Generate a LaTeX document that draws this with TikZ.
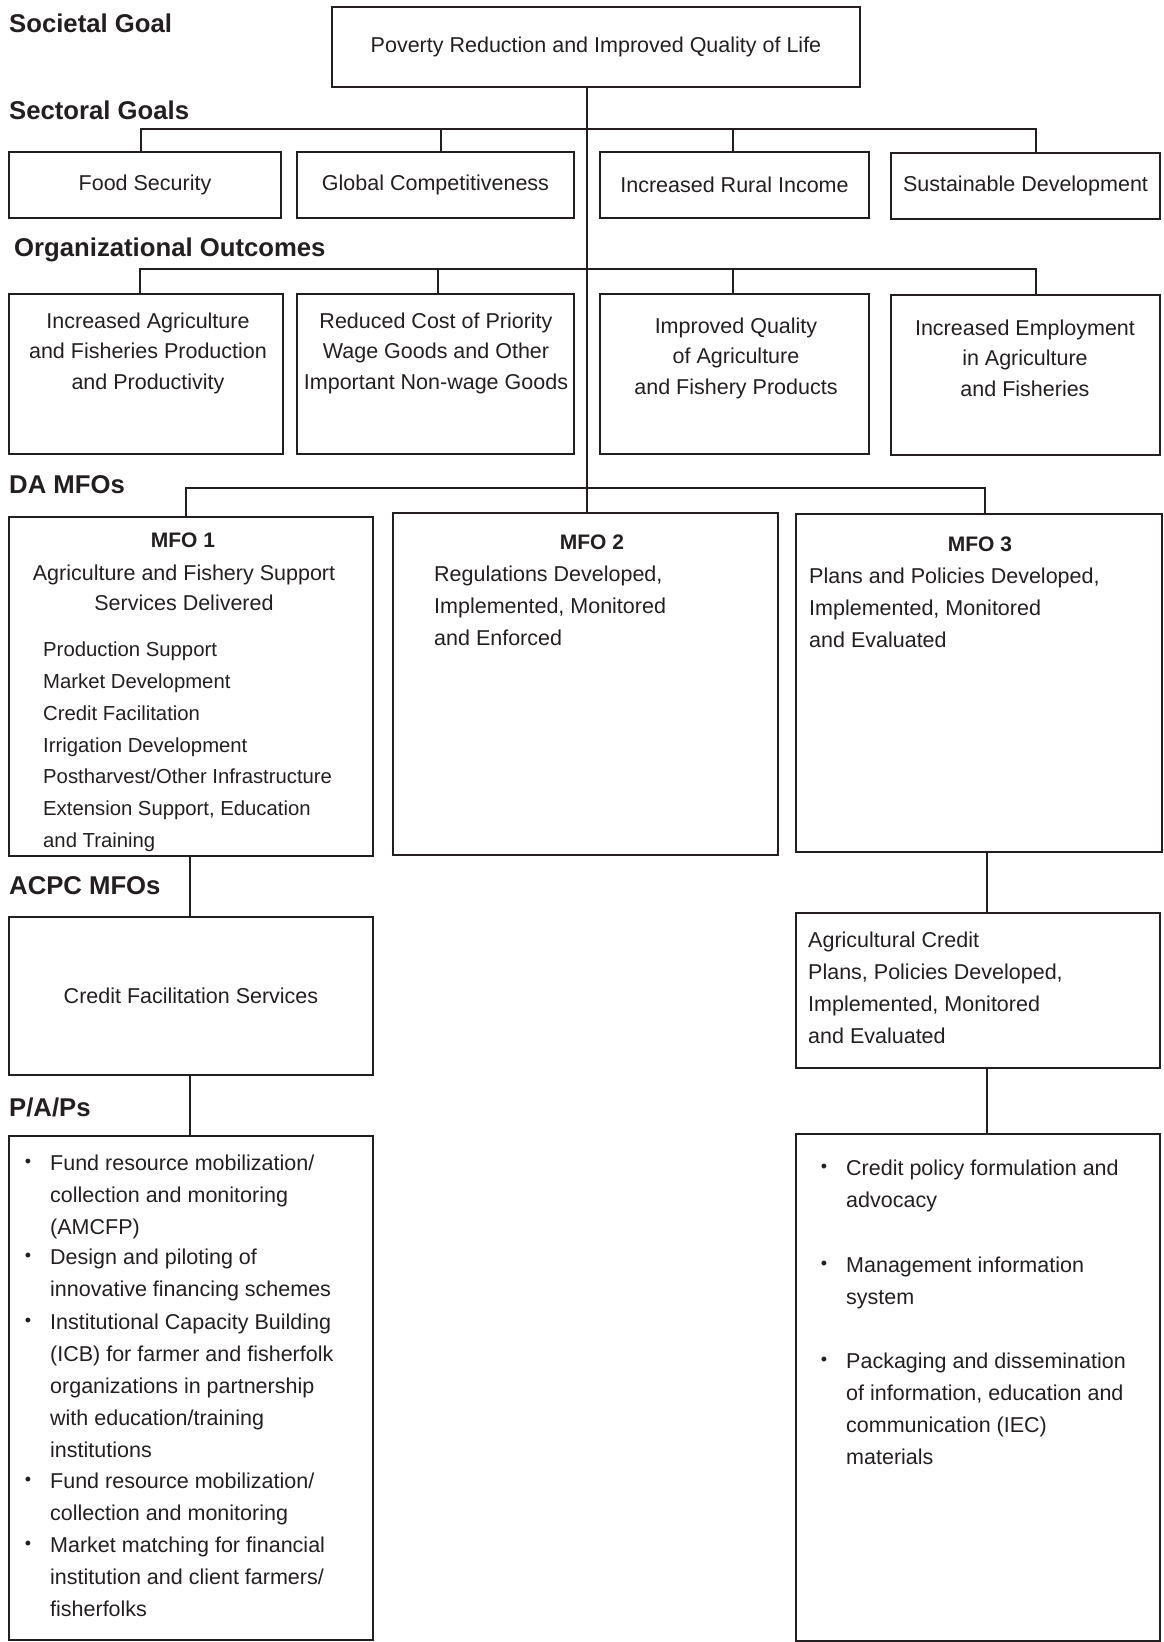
\documentclass[tikz,border=0pt]{standalone}
\usepackage{fontspec}
\setmainfont{Liberation Sans}
\definecolor{ink}{RGB}{35,31,32}
\newcommand\bodyf{\fontsize{21.5pt}{32pt}\selectfont}
\newcommand\outf{\fontsize{21.5pt}{30.5pt}\selectfont}
\newcommand\listf{\fontsize{20.3pt}{31.7pt}\selectfont}
\newcommand\headf{\fontsize{25.7pt}{30pt}\selectfont\bfseries}
\newcommand\mfof{\fontsize{21pt}{30pt}\selectfont\bfseries}
\begin{document}
\begin{tikzpicture}[x=1pt,y=-1pt,
  box/.style={draw=ink, line width=2.4pt, inner sep=0pt, text=ink, font=\bodyf, align=center},
  conn/.style={draw=ink, line width=2pt},
  head/.style={anchor=base west, inner sep=0pt, text=ink, font=\headf},
  txt/.style={inner sep=0pt, text=ink, font=\bodyf},
  bul/.style={inner sep=0pt, text=ink, font=\fontsize{18pt}{18pt}\selectfont}]
\useasboundingbox (0,0) rectangle (1164,1642);

% headings
\node[head] (hsoc) at (9,32) {Societal Goal};
\node[head] (hsec) at (9,119) {Sectoral Goals};
\node[head] (horg) at (14,256) {Organizational Outcomes};
\node[head] (hda) at (9,493) {DA MFOs};
\node[head] (hacpc) at (9,894) {ACPC MFOs};
\node[head] (hpap) at (9,1116) {P/A/Ps};

% societal goal
\node[box, minimum width=528pt, minimum height=80pt] (top) at (596,47) {Poverty Reduction and Improved Quality of Life};

% sectoral goals
\node[box, minimum width=272pt, minimum height=66pt] (fs) at (145,185) {Food Security};
\node[box, minimum width=277pt, minimum height=66pt] (gc) at (435.5,185) {Global Competitiveness};
\node[box, minimum width=269pt, minimum height=66pt] (rr) at (734.5,185) {Increased Rural Income};
\node[box, minimum width=269pt, minimum height=66pt] (sd) at (1025.5,186) {Sustainable Development};

% organizational outcomes
\node[box, minimum width=274pt, minimum height=160pt] (o1) at (146,374) {};
\node[box, minimum width=277pt, minimum height=160pt] (o2) at (435.5,374) {};
\node[box, minimum width=269pt, minimum height=160pt] (o3) at (734.5,374) {};
\node[box, minimum width=269pt, minimum height=160pt] (o4) at (1025.5,375) {};
\node[txt, font=\outf, align=center] (o1t) at (148,353) {Increased Agriculture\\and Fisheries Production\\and Productivity};
\node[txt, font=\outf, align=center] (o2t) at (436,353) {Reduced Cost of Priority\\Wage Goods and Other\\Important Non-wage Goods};
\node[txt, font=\outf, align=center] (o3t) at (736,358) {Improved Quality\\of Agriculture\\and Fishery Products};
\node[txt, font=\outf, align=center] (o4t) at (1025,358) {Increased Employment\\in Agriculture\\and Fisheries};

% DA MFOs
\node[box, minimum width=364pt, minimum height=339pt] (m1) at (191,686.5) {};
\node[box, minimum width=385pt, minimum height=342pt] (m2) at (585.5,684) {};
\node[box, minimum width=366pt, minimum height=338pt] (m3) at (979,683) {};
\node[txt, font=\mfof] (m1h) at (183,540) {MFO 1};
\node[txt, font=\outf, align=center] (m1s) at (184,588) {Agriculture and Fishery Support\\Services Delivered};
\node[txt, font=\listf, align=left, anchor=north west] (m1l) at (43,642) {Production Support\\Market Development\\Credit Facilitation\\Irrigation Development\\Postharvest/Other Infrastructure\\Extension Support, Education\\and Training};
\node[txt, font=\mfof] (m2h) at (592,542) {MFO 2};
\node[txt, align=left, anchor=north west] (m2l) at (434,566) {Regulations Developed,\\Implemented, Monitored\\and Enforced};
\node[txt, font=\mfof] (m3h) at (980,544) {MFO 3};
\node[txt, align=left, anchor=north west] (m3l) at (809,568) {Plans and Policies Developed,\\Implemented, Monitored\\and Evaluated};

% ACPC MFOs
\node[box, minimum width=364pt, minimum height=158pt] (cb) at (191,996) {Credit Facilitation Services};
\node[box, minimum width=364pt, minimum height=155pt] (ab) at (978,990.5) {};
\node[txt, align=left, anchor=north west] (abt) at (808,932) {Agricultural Credit\\Plans, Policies Developed,\\Implemented, Monitored\\and Evaluated};

% P/A/Ps
\node[box, minimum width=364pt, minimum height=504pt] (pl) at (191,1388) {};
\node[box, minimum width=364pt, minimum height=507pt] (pr) at (978,1387.5) {};

\node[bul] (bl1) at (28,1163) {•};
\node[txt, align=left, anchor=north west] (tl1) at (50,1155) {Fund resource mobilization/\\collection and monitoring\\(AMCFP)};
\node[bul] (bl2) at (28,1257) {•};
\node[txt, align=left, anchor=north west] (tl2) at (50,1249) {Design and piloting of\\innovative financing schemes};
\node[bul] (bl3) at (28,1322) {•};
\node[txt, align=left, anchor=north west] (tl3) at (50,1314) {Institutional Capacity Building\\(ICB) for farmer and fisherfolk\\organizations in partnership\\with education/training\\institutions};
\node[bul] (bl4) at (28,1481) {•};
\node[txt, align=left, anchor=north west] (tl4) at (50,1473) {Fund resource mobilization/\\collection and monitoring};
\node[bul] (bl5) at (28,1545) {•};
\node[txt, align=left, anchor=north west] (tl5) at (50,1537) {Market matching for financial\\institution and client farmers/\\fisherfolks};

\node[bul] (br1) at (824,1168) {•};
\node[txt, align=left, anchor=north west] (tr1) at (846,1160) {Credit policy formulation and\\advocacy};
\node[bul] (br2) at (824,1265) {•};
\node[txt, align=left, anchor=north west] (tr2) at (846,1257) {Management information\\system};
\node[bul] (br3) at (824,1361) {•};
\node[txt, align=left, anchor=north west] (tr3) at (846,1353) {Packaging and dissemination\\of information, education and\\communication (IEC)\\materials};

% connectors
\coordinate (sbus) at (587,129);
\coordinate (obus) at (587,269);
\coordinate (dbus) at (587,488);
\draw[conn] (top.south -| sbus) -- (m2.north -| sbus);
\draw[conn] ([xshift=-4pt]fs.north) |- (sbus) -| ([xshift=10.5pt]sd.north);
\draw[conn] ([xshift=5.5pt]gc.north) |- (sbus);
\draw[conn] ([xshift=-1.5pt]rr.north) |- (sbus);
\draw[conn] ([xshift=-6pt]o1.north) |- (obus) -| ([xshift=10.5pt]o4.north);
\draw[conn] ([xshift=2.5pt]o2.north) |- (obus);
\draw[conn] ([xshift=-1.5pt]o3.north) |- (obus);
\draw[conn] ([xshift=-5pt]m1.north) |- (dbus) -| ([xshift=6pt]m3.north);
\draw[conn] ([xshift=-1pt]m1.south) -- ([xshift=-1pt]cb.north);
\draw[conn] ([xshift=-1pt]cb.south) -- ([xshift=-1pt]pl.north);
\draw[conn] ([xshift=8pt]m3.south) -- ([xshift=8pt]m3.south |- ab.north);
\draw[conn] ([xshift=9pt]ab.south) -- ([xshift=9pt]pr.north);
\end{tikzpicture}
\end{document}
